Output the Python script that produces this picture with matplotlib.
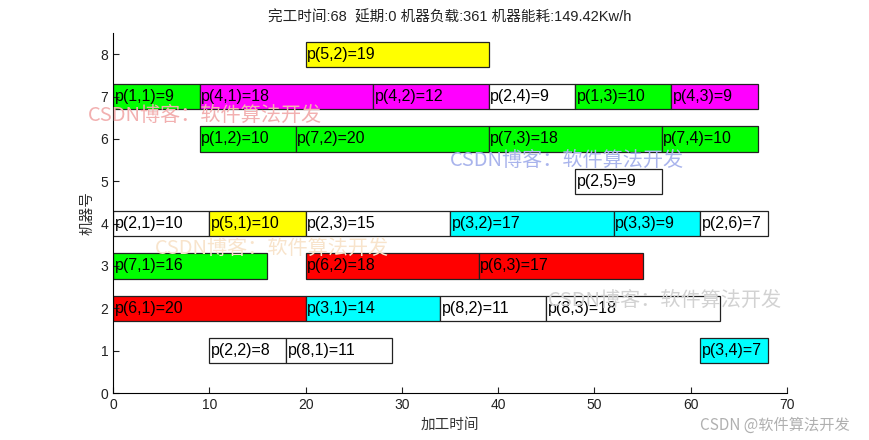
import matplotlib.pyplot as plt

plt.rcParams['font.family'] = ['Liberation Sans', 'Noto Sans CJK SC', 'DejaVu Sans']

# 每道工序: 工件, 工序号, 机器, 开始时间, 加工时间
jobs     = [5, 1, 4, 4, 2, 1, 4, 1, 7, 7, 7, 2, 2, 5, 2, 3, 3, 2, 7, 6, 6, 6, 3, 8, 8, 2, 8, 3]
ops      = [2, 1, 1, 2, 4, 3, 3, 2, 2, 3, 4, 5, 1, 1, 3, 2, 3, 6, 1, 2, 3, 1, 1, 2, 3, 2, 1, 4]
machines = [8, 7, 7, 7, 7, 7, 7, 6, 6, 6, 6, 5, 4, 4, 4, 4, 4, 4, 3, 3, 3, 2, 2, 2, 2, 1, 1, 1]
starts   = [20, 0, 9, 27, 39, 48, 58, 9, 19, 39, 57, 48, 0, 10, 20, 35, 52, 61, 0, 20, 38, 0, 20, 34, 45, 10, 18, 61]
durs     = [19, 9, 18, 12, 9, 10, 9, 10, 20, 18, 10, 9, 10, 10, 15, 17, 9, 7, 16, 18, 17, 20, 14, 11, 18, 8, 11, 7]

job_colors = {1: '#00ff00', 2: '#ffffff', 3: '#00ffff', 4: '#ff00ff',
              5: '#ffff00', 6: '#ff0000', 7: '#00ff00', 8: '#ffffff'}

title_txt = '完工时间:68  延期:0 机器负载:361 机器能耗:149.42Kw/h'

fig = plt.figure(figsize=(8.7, 4.4), dpi=100)
ax = fig.add_axes([0.1299, 0.1068, 0.7747, 0.818])

for j, o, m, s, d in zip(jobs, ops, machines, starts, durs):
    ax.barh(m, d, left=s, height=0.6, color=job_colors[j],
            edgecolor='#222222', linewidth=0.9)
    ax.text(s + 0.15, m, f'p({j},{o})={d}', ha='left', va='center',
            fontsize=11.5, color='black')

ax.set_xlim(0, 70)
ax.set_ylim(0, 8.5)
ax.set_xticks(range(0, 71, 10))
ax.set_yticks(range(0, 9))
ax.tick_params(direction='in', labelsize=10, length=4, colors='#222222')
for side in ['top', 'right']:
    ax.spines[side].set_visible(False)
ax.set_xlabel('加工时间', fontsize=10.5, color='#333333')
ax.set_ylabel('机器号', fontsize=10.5, color='#333333')
ax.set_title(title_txt, fontsize=10.5, color='#222222', pad=8)

# 水印
wm = 'CSDN博客：软件算法开发'
wm_pos = [(88, 115, '#f2b0b0'), (450, 160, '#a9b4ec'),
          (155, 248, '#f8e4cc'), (548, 300, '#d2d2d2')]
for x, y, c in wm_pos:
    fig.text(x / 870, 1 - y / 440, wm, fontsize=14.5, color=c,
             ha='left', va='center', family=['Noto Sans CJK SC'])
fig.text(700 / 870, 1 - 425 / 440, 'CSDN @软件算法开发', fontsize=11,
         color='#b0b0b0', ha='left', va='center', family=['Noto Sans CJK SC'])

fig.savefig('out.png', dpi=100)
